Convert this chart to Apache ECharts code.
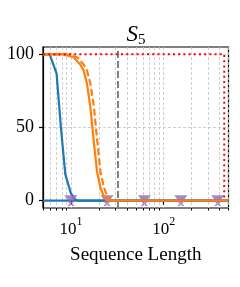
<!DOCTYPE html>
<html><head><meta charset="utf-8">
<script src="https://cdn.jsdelivr.net/npm/echarts@6/dist/echarts.min.js"></script>
<style>html,body{margin:0;padding:0;background:#fff}#c{width:240px;height:287px}</style>
</head><body><div id="c"></div>
<script>
// ---- data ----
const titleMain = 'S', titleSub = '5';
const xName = 'Sequence Length';
const xMajorTicks = [10, 100];
const xMinorTicks = [5, 6, 7, 8, 9, 20, 30, 40, 50, 60, 70, 80, 90, 200, 300, 400, 500];
const yTicks = [0, 50, 100];

const blueX = [5, 5.9, 7, 7.8, 8.7, 10, 11, 12, 14, 500];
const blueY = [100, 100, 87, 50, 18, 5, 1, 0, 0, 0];
const blueZeroX = [5, 500];
const blueZeroY = [0, 0];
const orangeX = [5, 8.3, 10.7, 12.6, 13.7, 14.9, 16.2, 17.6, 19.1, 20.8, 22.6, 24.6, 500];
const orangeY = [100, 100, 98, 93, 89, 80, 64, 41, 20, 9, 3, 0, 0];
const orangeDashX = [5, 9, 11.7, 13.7, 14.9, 16.2, 17.7, 19.2, 20.8, 22.7, 24.6, 26.8];
const orangeDashY = [100, 100, 98, 93, 89, 80, 64, 41, 20, 9, 3, 0];
const purpleX = [10, 24.5, 62, 153, 383];
const purpleY = [0, 0, 0, 0, 0];
const redX = [5, 450, 450];
const redY = [100, 100, 0];
const grayLineX = 32;

const zip = (a, b) => a.map((v, i) => [v, b[i]]);
const serif = 'Liberation Serif';
const gridColor = '#c4c4c4';

const chart = echarts.init(document.getElementById('c'), null, {renderer: 'canvas'});
chart.setOption({
  animation: false,
  backgroundColor: '#fff',
  title: {
    text: '{i|' + titleMain + '}{s|' + titleSub + '}',
    left: 131, top: 17, textAlign: 'center',
    textStyle: {
      fontWeight: 'normal',
      rich: {
        i: {fontFamily: serif, fontStyle: 'italic', fontWeight: 'normal', fontSize: 23, lineHeight: 26, color: '#000'},
        s: {fontFamily: serif, fontWeight: 'normal', fontSize: 15, lineHeight: 15, verticalAlign: 'bottom', color: '#000'}
      }
    }
  },
  grid: {left: 43, top: 47, width: 185.5, height: 161, show: true, borderColor: '#000', borderWidth: 1.2, backgroundColor: 'transparent'},
  xAxis: [{
    type: 'log', logBase: 10, min: 5, max: 500, position: 'bottom',
    name: xName, nameLocation: 'middle', nameGap: 38,
    nameTextStyle: {fontFamily: serif, fontSize: 19, color: '#000'},
    axisLine: {show: true, lineStyle: {color: '#000', width: 1.2}},
    axisTick: {show: true, inside: false, length: 4, lineStyle: {color: '#000', width: 1.2}, customValues: xMajorTicks},
    axisLabel: {
      customValues: xMajorTicks, margin: 8,
      formatter: v => '{b|10}{s|' + Math.round(Math.log10(v)) + '}',
      rich: {
        b: {fontFamily: serif, fontSize: 17, lineHeight: 22, verticalAlign: 'bottom', color: '#000'},
        s: {fontFamily: serif, fontSize: 12, lineHeight: 12, verticalAlign: 'top', color: '#000'}
      }
    },
    splitLine: {show: true, lineStyle: {color: gridColor, width: 0.8, type: [3, 2]}}
  }, {
    type: 'log', logBase: 10, min: 5, max: 500, position: 'bottom', offset: 0,
    axisLine: {show: false},
    axisTick: {show: true, inside: false, length: 2.5, lineStyle: {color: '#000', width: 1}, customValues: xMinorTicks},
    axisLabel: {show: false},
    splitLine: {show: true, lineStyle: {color: gridColor, width: 0.8, type: [3, 2]}}
  }],
  yAxis: {
    type: 'value', min: -5, max: 105,
    axisLine: {show: true, lineStyle: {color: '#000', width: 1.2}},
    axisTick: {show: true, inside: false, length: 4, lineStyle: {color: '#000', width: 1.2}, customValues: yTicks},
    axisLabel: {customValues: yTicks, margin: 9, fontFamily: serif, fontSize: 18, color: '#000'},
    splitLine: {show: true, lineStyle: {color: gridColor, width: 0.8, type: [3, 2]}}
  },
  series: [
    {type: 'line', data: zip(blueZeroX, blueZeroY), showSymbol: false, lineStyle: {color: '#1f77b4', width: 2.2}, z: 2},
    {type: 'line', data: zip(blueX, blueY), showSymbol: false, lineStyle: {color: '#1f77b4', width: 2.2}, z: 3},
    {type: 'scatter', data: zip(purpleX, purpleY),
     symbol: 'path://M0,0 L13,0 L9,6 L4,6 Z M3,7 L5,6 L6.5,8 L8,6 L10,7 L7.5,9 L10,11.5 L8,12 L6.5,10 L5,12 L3,11.5 L5.5,9 Z',
     symbolSize: [13, 11], itemStyle: {color: '#9467bd'}, z: 4},
    {type: 'line', data: zip(orangeDashX, orangeDashY), showSymbol: false, lineStyle: {color: '#ff7f0e', width: 2.2, type: [7, 3]}, z: 5},
    {type: 'line', data: zip(orangeX, orangeY), showSymbol: false, lineStyle: {color: '#ff7f0e', width: 2.2}, z: 6},
    {type: 'line', data: zip(redX, redY), showSymbol: false, lineStyle: {color: '#ff0000', width: 2, type: [2, 3.2]}, z: 7,
     markLine: {silent: true, symbol: 'none', label: {show: false},
       lineStyle: {color: '#808080', width: 2, type: [7, 3]},
       data: [{xAxis: grayLineX}]}}
  ]
});
</script></body></html>
